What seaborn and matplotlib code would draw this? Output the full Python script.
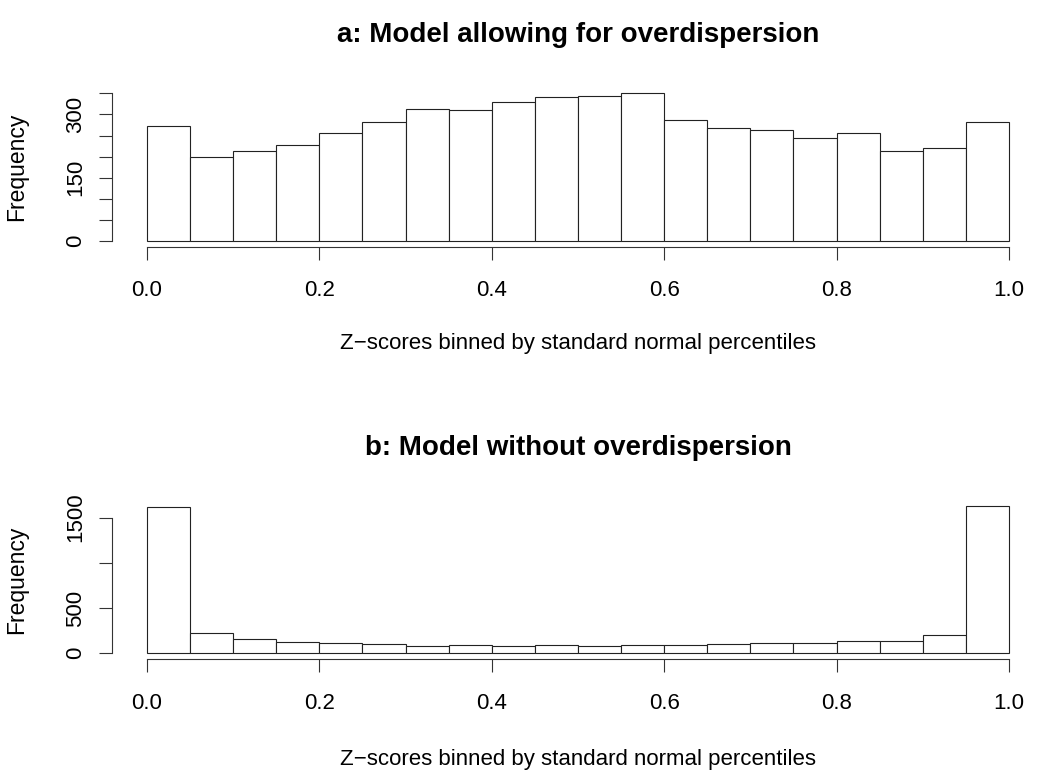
import matplotlib
matplotlib.use("Agg")
import matplotlib.pyplot as plt
import seaborn as sns
import numpy as np
import pandas as pd

# histogram bins (20 equal-width percentile bins)
n_bins = 20
bin_edges = np.linspace(0, 1, n_bins + 1)

# counts
counts_a = [272, 198, 213, 227, 255, 281, 314, 311, 329, 342,
            345, 352, 288, 267, 263, 245, 257, 213, 221, 283]
counts_b = [1615, 221, 155, 122, 111, 103, 84, 92, 81, 95,
            81, 92, 95, 103, 111, 111, 133, 139, 199, 1633]

titles = ["a: Model allowing for overdispersion",
          "b: Model without overdispersion"]
xlab = "Z\u2212scores binned by standard normal percentiles"
ylab = "Frequency"

xticks = [0.0, 0.2, 0.4, 0.6, 0.8, 1.0]
xticklabels = ["0.0", "0.2", "0.4", "0.6", "0.8", "1.0"]
yticks_a = [0, 50, 100, 150, 200, 250, 300, 350]
yticklabels_a = ["0", "", "", "150", "", "", "300", ""]
yticks_b = [0, 500, 1000, 1500]
yticklabels_b = ["0", "500", "", "1500"]

sns.set_style("ticks")
plt.rcParams["font.family"] = ["Liberation Sans", "DejaVu Sans"]
plt.rcParams["text.color"] = "black"
plt.rcParams["axes.labelcolor"] = "black"

fig = plt.figure(figsize=(10.5, 7.8), dpi=100)
ax_a = fig.add_axes([0.1071, 0.6838, 0.8867, 0.2051])
ax_b = fig.add_axes([0.1071, 0.1549, 0.8867, 0.2044])

mids = (bin_edges[:-1] + bin_edges[1:]) / 2

panels = [
    (ax_a, counts_a, titles[0], yticks_a, yticklabels_a, -0.64),
    (ax_b, counts_b, titles[1], yticks_b, yticklabels_b, -0.664),
]

for ax, counts, title, yt, ytl, xlab_y in panels:
    df = pd.DataFrame({"z": mids, "n": counts})
    sns.histplot(data=df, x="z", weights="n", bins=n_bins, binrange=(0, 1),
                 ax=ax, color="white", edgecolor="#222222", linewidth=0.8,
                 alpha=1, fill=True)
    ymax = max(counts)
    ax.set_xlim(-0.04, 1.04)
    ax.set_ylim(-0.04 * ymax, 1.04 * ymax)

    # R-style axes: lines only over the tick range
    for s in ["top", "right"]:
        ax.spines[s].set_visible(False)
    ax.spines["bottom"].set_bounds(xticks[0], xticks[-1])
    ax.spines["left"].set_bounds(yt[0], yt[-1])
    for s in ["bottom", "left"]:
        ax.spines[s].set_linewidth(0.8)
        ax.spines[s].set_color("#333333")

    ax.set_xticks(xticks)
    ax.set_xticklabels(xticklabels)
    ax.set_yticks(yt)
    ax.set_yticklabels(ytl)
    ax.tick_params(axis="both", direction="out", length=9.5, width=0.8,
                   color="#333333", labelsize=16, labelcolor="black")
    ax.tick_params(axis="x", pad=14.8)
    ax.tick_params(axis="y", pad=9.6, labelrotation=90)
    for lab in ax.get_yticklabels():
        lab.set_va("center")

    ax.set_title(title, fontsize=20, fontweight="bold", pad=32, color="black")
    ax.set_xlabel(xlab, fontsize=16, va="baseline", color="black")
    ax.xaxis.set_label_coords(0.5, xlab_y)
    ax.set_ylabel(ylab, fontsize=16.5, color="black")
    ax.yaxis.set_label_coords(-0.091, 0.5)

fig.savefig("out.png", dpi=100, facecolor="white")
